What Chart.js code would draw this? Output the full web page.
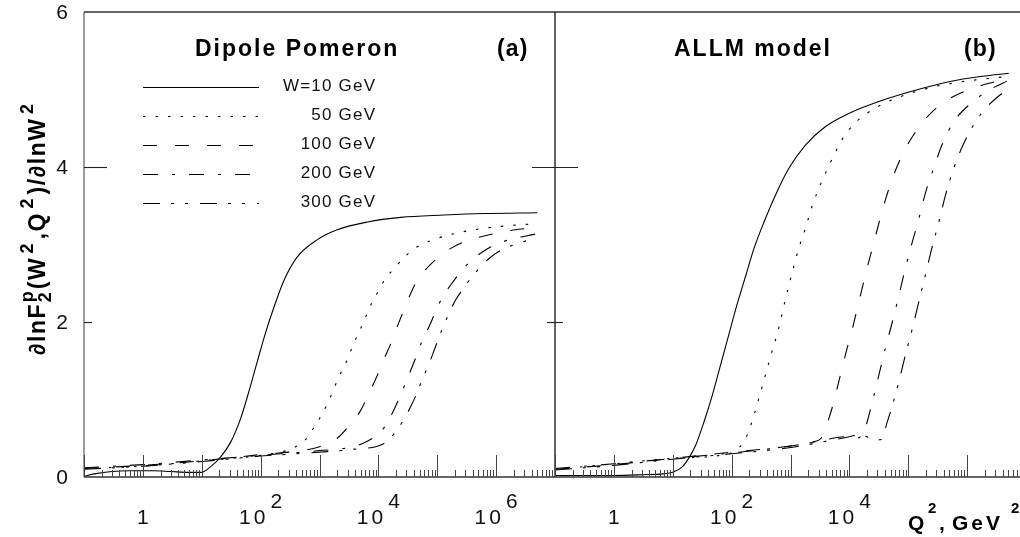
<!DOCTYPE html>
<html><head><meta charset="utf-8">
<script src="https://cdn.jsdelivr.net/npm/chart.js@4/dist/chart.umd.min.js"></script>
<style>
html,body{margin:0;padding:0;width:1020px;height:537px;overflow:hidden;background:#fff;}
#ca{position:absolute;left:0;top:0;width:580px;height:537px;}
#cb{position:absolute;left:520px;top:0;width:520px;height:537px;}
</style></head><body>
<canvas id="ca" width="580" height="537"></canvas>
<canvas id="cb" width="520" height="537"></canvas>
<script>
// ---------- data ----------
// Panel (a): Dipole Pomeron
const Q2_A10  = [0.1,0.15,0.3,0.6,1.5,3,6,10,14,21,31,46,63,87,120,170,250,420,910,2000,6500,24000,1.3e5,6.2e5,5e6];
const F_A10   = [0.01,0.04,0.07,0.08,0.08,0.07,0.06,0.06,0.13,0.26,0.45,0.76,1.10,1.48,1.85,2.20,2.54,2.84,3.06,3.19,3.29,3.35,3.38,3.40,3.41];
const Q2_A50  = [0.1,1,10,100,320,575,790,1120,1450,1820,2290,2950,3800,4900,6300,7900,10200,13200,19500,28800,45700,77600,1.7e5,4.2e5,1.05e6,5e6];
const F_A50   = [0.11,0.14,0.21,0.28,0.36,0.48,0.63,0.82,0.99,1.17,1.34,1.51,1.72,1.90,2.09,2.26,2.41,2.56,2.71,2.85,2.97,3.05,3.13,3.19,3.23,3.27];
const Q2_A100 = [0.1,1,10,100,1000,2000,3390,5010,6920,9330,12300,16200,20900,26900,35500,45700,67600,1.07e5,1.7e5,3.24e5,7.08e5,1.74e6,5e6];
const F_A100  = [0.11,0.15,0.21,0.29,0.39,0.50,0.69,0.86,1.08,1.29,1.51,1.72,1.94,2.15,2.37,2.54,2.70,2.84,2.95,3.05,3.12,3.18,3.22];
const Q2_A200 = [0.1,1,10,100,1000,3160,6460,12300,18200,25100,33100,42700,55000,72400,93300,1.2e5,1.7e5,2.51e5,3.89e5,6.61e5,1.35e6,5e6];
const F_A200  = [0.12,0.16,0.22,0.28,0.34,0.38,0.46,0.63,0.86,1.10,1.32,1.53,1.75,1.94,2.13,2.31,2.48,2.65,2.80,2.93,3.04,3.14];
const Q2_A300 = [0.1,1,10,100,1000,3980,12300,20900,30900,42700,55000,72400,93300,1.2e5,1.58e5,2.04e5,2.82e5,4.17e5,7.08e5,1.17e6,2.29e6,5e6];
const F_A300  = [0.10,0.14,0.20,0.27,0.32,0.36,0.43,0.61,0.82,1.04,1.25,1.46,1.68,1.90,2.11,2.28,2.44,2.61,2.80,2.92,3.01,3.09];
// Panel (b): ALLM model
const Q2_B10  = [0.1,1,3.2,6.8,10,14.5,18.6,24.5,33.9,46.8,64.6,89.1,123,174,240,355,550,933,1780,3890,9770,36300,1.32e5,4.9e5,1.78e6,5.1e6];
const F_B10   = [0.02,0.02,0.03,0.04,0.06,0.13,0.24,0.41,0.71,1.05,1.44,1.83,2.22,2.60,2.95,3.29,3.63,3.98,4.28,4.52,4.69,4.86,4.99,5.10,5.17,5.21];
const Q2_B50  = [0.1,1,10,100,126,174,240,331,457,631,813,1070,1380,1780,2340,3470,5130,7590,12600,27500,69200,2.24e5,8.13e5,5.1e6];
const F_B50   = [0.10,0.17,0.24,0.31,0.36,0.50,0.80,1.17,1.55,1.92,2.28,2.64,2.95,3.20,3.50,3.83,4.11,4.36,4.57,4.76,4.90,5.02,5.10,5.17];
const Q2_B100 = [0.1,1,10,100,1000,2630,3310,3720,5130,6610,8510,11200,14500,18600,24500,31600,40700,56200,83200,1.32e5,2.24e5,4.27e5,9.33e5,2.34e6,5.1e6];
const F_B100  = [0.10,0.16,0.24,0.32,0.40,0.46,0.50,0.58,0.90,1.23,1.57,1.91,2.26,2.60,2.95,3.27,3.57,3.89,4.19,4.45,4.67,4.85,4.98,5.08,5.14];
const Q2_B200 = [0.1,1,10,100,1000,3980,7940,12600,16600,20000,24500,31600,40700,53700,69200,89100,1.17e5,1.51e5,1.95e5,2.69e5,3.72e5,5.89e5,1.07e6,2.34e6,5.1e6];
const F_B200  = [0.11,0.17,0.24,0.31,0.40,0.48,0.52,0.50,0.55,0.71,0.97,1.31,1.66,2.00,2.34,2.69,3.03,3.33,3.66,3.98,4.28,4.58,4.80,4.99,5.12];
const Q2_B300 = [0.1,1,10,100,1000,3980,10000,15800,22400,31600,38000,40700,53700,69200,89100,1.17e5,1.51e5,1.95e5,2.51e5,3.31e5,4.27e5,5.89e5,8.71e5,1.38e6,2.34e6,5.1e6];
const F_B300  = [0.09,0.15,0.23,0.30,0.38,0.46,0.52,0.55,0.50,0.48,0.52,0.62,0.92,1.23,1.57,1.91,2.26,2.60,2.95,3.29,3.63,3.98,4.30,4.58,4.80,5.02];

const seriesLabels = ['W=10 GeV','50 GeV','100 GeV','200 GeV','300 GeV'];
const seriesDash = [[], [2.5,10], [14,18], [15,14,3,14], [17,11,3,11,3,12]];

const xMajorVals = [0.1,1,10,100,1e3,1e4,1e5,1e6,1e7];
const xMinorMult = [2,3,4,5,6,7,8,9];
const xLabelValsA = [1,100,1e4,1e6];
const xLabelBaseA = ['1','10','10','10'];
const xLabelSupA  = ['','2','4','6'];
const xLabelValsB = [1,100,1e4];
const xLabelBaseB = ['1','10','10'];
const xLabelSupB  = ['','2','4'];
const yLabelVals = [0,2,4,6];
const yLabels = ['0','2','4','6'];
const yTickVals = [2,4];
const yTickLen = [8,23];

// ---------- helpers ----------
const FF = "'Liberation Sans', Arial, sans-serif";
function pts(xs, ys){ return xs.map((x,i)=>({x:x, y:ys[i]})); }
function sw(ctx, s, sp){ let w=0; for(const ch of s){ w += ctx.measureText(ch).width + sp; } return s.length ? w - sp : 0; }
function st(ctx, s, x, y, sp){ let cx=x; for(const ch of s){ ctx.fillText(ch, cx, y); cx += ctx.measureText(ch).width + sp; } return cx - sp; }

function makeSets(groups){
  return groups.map((g,i)=>({
    label: seriesLabels[i], data: pts(g[0], g[1]),
    borderColor:'#000', borderWidth:1.1, borderDash: seriesDash[i],
    pointRadius:0, fill:false, cubicInterpolationMode:'monotone'
  }));
}

function framePlugin(cfg){
  return {
    id:'frame'+cfg.name,
    afterDraw(chart){
      const ctx = chart.ctx, a = chart.chartArea, xs = chart.scales.x, ys = chart.scales.y;
      ctx.save();
      ctx.setLineDash([]);
      ctx.lineWidth = 1.3;
      ctx.strokeStyle = cfg.leftColor;
      ctx.beginPath(); ctx.moveTo(a.left, a.top); ctx.lineTo(a.left, a.bottom); ctx.stroke();
      ctx.strokeStyle = '#333';
      ctx.beginPath(); ctx.moveTo(a.left, a.top); ctx.lineTo(a.right, a.top); ctx.stroke();
      ctx.beginPath(); ctx.moveTo(a.left, a.bottom); ctx.lineTo(a.right, a.bottom); ctx.stroke();
      ctx.lineWidth = 1; ctx.strokeStyle = '#444';
      xMajorVals.forEach((v,i)=>{
        const px = Math.round(xs.getPixelForValue(v)) + 0.5;
        ctx.beginPath(); ctx.moveTo(px, a.bottom); ctx.lineTo(px, a.bottom - 22); ctx.stroke();
        if (i < xMajorVals.length - 1) xMinorMult.forEach(m=>{
          const p = Math.round(xs.getPixelForValue(v*m)) + 0.5;
          if (p > a.right) return;
          ctx.beginPath(); ctx.moveTo(p, a.bottom); ctx.lineTo(p, a.bottom - 7); ctx.stroke();
        });
      });
      ctx.strokeStyle = '#222'; ctx.lineWidth = 1.1;
      yTickVals.forEach((v,i)=>{
        const py = Math.round(ys.getPixelForValue(v)) + 0.5;
        ctx.beginPath();
        ctx.moveTo(a.left - (cfg.both ? yTickLen[i] : 0), py);
        ctx.lineTo(a.left + yTickLen[i], py); ctx.stroke();
      });
      ctx.fillStyle = '#111'; ctx.textBaseline = 'alphabetic'; ctx.textAlign = 'left';
      ctx.font = '21px ' + FF;
      cfg.xLabVals.forEach((v,i)=>{
        const px = xs.getPixelForValue(v);
        const b = cfg.xLabBase[i], s = cfg.xLabSup[i];
        const wb = sw(ctx, b, 3), ws = s ? sw(ctx, s, 0) : 0;
        const tot = wb + (s ? 5 + ws : 0);
        const x0 = px - tot/2;
        st(ctx, b, x0, 524, 3);
        if (s) st(ctx, s, x0 + wb + 5, 508, 0);
      });
      ctx.fillStyle = '#000';
      ctx.font = 'bold 23px ' + FF;
      st(ctx, cfg.title, cfg.titleX, 56, 2);
      st(ctx, cfg.tag, cfg.tagX, 56, 1.2);
      if (cfg.extra) cfg.extra(chart, ctx);
      ctx.restore();
    }
  };
}

function drawLeftExtras(chart, ctx){
  const ys = chart.scales.y;
  ctx.fillStyle = '#111'; ctx.font = '21px ' + FF; ctx.textAlign = 'center'; ctx.textBaseline = 'middle';
  yLabelVals.forEach((v,i)=>{ ctx.fillText(yLabels[i], 62, ys.getPixelForValue(v) + 1); });
  ctx.textAlign = 'left'; ctx.textBaseline = 'alphabetic';
  const ds = chart.data.datasets;
  ds.forEach((d,i)=>{
    const y = 87.5 + 29*i;
    ctx.strokeStyle = '#000'; ctx.lineWidth = 1.1; ctx.setLineDash(d.borderDash);
    ctx.beginPath(); ctx.moveTo(143, y); ctx.lineTo(259, y); ctx.stroke();
    ctx.setLineDash([]);
    ctx.fillStyle = '#111'; ctx.font = '17px ' + FF;
    const w = sw(ctx, d.label, 1.2);
    st(ctx, d.label, 375 - w, 91 + 29*i, 1.2);
  });
  // y axis title (rotated)
  ctx.save();
  ctx.translate(45, 355); ctx.rotate(-Math.PI/2);
  ctx.fillStyle = '#000';
  const big = 'bold 23px ' + FF, sml = 'bold 18px ' + FF;
  let x = 0;
  ctx.font = big; x = st(ctx, '\u2202lnF', x, 0, 1.6) + 2;
  ctx.font = sml; st(ctx, '2', x, 6, 0); st(ctx, 'p', x, -12, 0);
  x += sw(ctx, 'p', 0) + 2;
  ctx.font = big; x = st(ctx, '(W', x, 0, 1.6) + 5;
  ctx.font = sml; x = st(ctx, '2', x, -12, 0) + 4;
  ctx.font = big; x = st(ctx, ',Q', x, 0, 1.6) + 5;
  ctx.font = sml; x = st(ctx, '2', x, -12, 0) + 4;
  ctx.font = big; x = st(ctx, ')/\u2202lnW', x, 0, 1.6) + 5;
  ctx.font = sml; st(ctx, '2', x, -12, 0);
  ctx.restore();
}

function drawRightExtras(chart, ctx){
  const ox = -520;
  ctx.fillStyle = '#000';
  ctx.font = 'bold 21px ' + FF;
  st(ctx, 'Q', 908 + ox, 530, 0);
  ctx.font = 'bold 15px ' + FF;
  st(ctx, '2', 928 + ox, 513, 0);
  ctx.font = 'bold 21px ' + FF;
  st(ctx, ',', 939 + ox, 530, 0);
  st(ctx, 'GeV', 952 + ox, 530, 3);
  ctx.font = 'bold 15px ' + FF;
  st(ctx, '2', 1011 + ox, 513, 0);
}

function makeChart(id, groups, cfg){
  return new Chart(document.getElementById(id), {
    type:'line',
    data:{ datasets: makeSets(groups) },
    options:{
      responsive:false, animation:false, devicePixelRatio:1,
      layout:{ padding:{ left:0, top:12, right:cfg.padRight, bottom:0 } },
      plugins:{ legend:{display:false}, tooltip:{enabled:false}, title:{display:false} },
      scales:{
        x:{ type:'logarithmic', min:0.1, max:1e7, ticks:{display:false}, grid:{display:false}, border:{display:false},
            afterFit(s){ s.height = 60; } },
        y:{ type:'linear', min:0, max:6, ticks:{display:false}, grid:{display:false}, border:{display:false},
            afterFit(s){ s.width = cfg.yWidth; } }
      }
    },
    plugins:[framePlugin(cfg)]
  });
}

makeChart('ca', [[Q2_A10,F_A10],[Q2_A50,F_A50],[Q2_A100,F_A100],[Q2_A200,F_A200],[Q2_A300,F_A300]], {
  name:'A', padRight:25, yWidth:84, leftColor:'#666', both:false,
  xLabVals:xLabelValsA, xLabBase:xLabelBaseA, xLabSup:xLabelSupA,
  title:'Dipole Pomeron', titleX:195, tag:'(a)', tagX:497, extra:drawLeftExtras
});
makeChart('cb', [[Q2_B10,F_B10],[Q2_B50,F_B50],[Q2_B100,F_B100],[Q2_B200,F_B200],[Q2_B300,F_B300]], {
  name:'B', padRight:14, yWidth:35, leftColor:'#111', both:true,
  xLabVals:xLabelValsB, xLabBase:xLabelBaseB, xLabSup:xLabelSupB,
  title:'ALLM model', titleX:674-520, tag:'(b)', tagX:964-520, extra:drawRightExtras
});
</script>
</body></html>
